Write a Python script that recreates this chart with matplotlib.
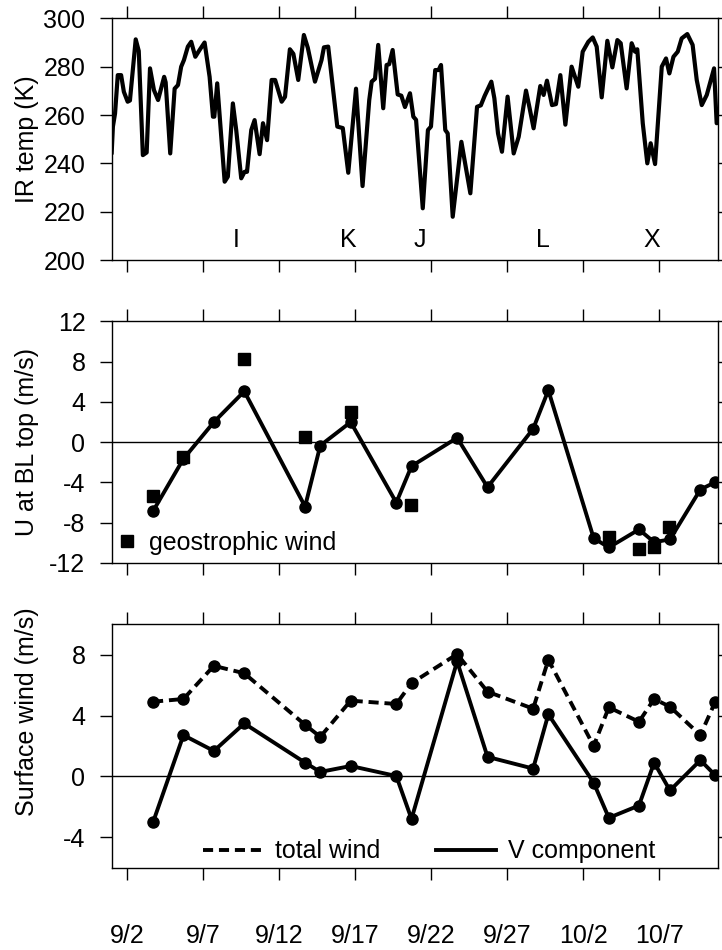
import numpy as np
import matplotlib
matplotlib.use("Agg")
import matplotlib.pyplot as plt

plt.rcParams['font.family'] = ['Liberation Sans', 'DejaVu Sans']
plt.rcParams['font.size'] = 18
plt.rcParams['axes.unicode_minus'] = False

# days since 9/2
tick_days = [0, 5, 10, 15, 20, 25, 30, 35]
tick_labels = ['9/2', '9/7', '9/12', '9/17', '9/22', '9/27', '10/2', '10/7']

# IR brightness temperature (traced)
ir_day = [-1.00, -0.92, -0.78, -0.60, -0.38, -0.20, 0.05, 0.20, 0.58, 0.78,
          1.05, 1.30, 1.52, 1.78, 2.05, 2.45, 2.55, 2.85, 3.14, 3.36,
          3.57, 3.75, 4.01, 4.23, 4.50, 4.78, 5.11, 5.44, 5.66, 5.75,
          5.94, 6.43, 6.64, 6.97, 7.19, 7.52, 7.74, 7.90, 8.18, 8.40,
          8.73, 8.95, 9.22, 9.52, 9.75, 10.18, 10.40, 10.72, 10.95, 11.27,
          11.64, 11.90, 12.37, 12.80, 12.96, 13.24, 13.84, 14.20, 14.56, 15.07,
          15.50, 15.94, 16.10, 16.32, 16.53, 16.86, 17.08, 17.25, 17.48, 17.81,
          18.05, 18.29, 18.62, 18.84, 19.02, 19.46, 19.80, 20.00, 20.28, 20.50,
          20.66, 20.94, 21.10, 21.43, 22.00, 22.59, 23.03, 23.28, 23.53, 23.97,
          24.17, 24.41, 24.67, 25.04, 25.44, 25.77, 26.25, 26.47, 26.75, 27.19,
          27.41, 27.63, 27.96, 28.22, 28.51, 28.84, 29.25, 29.69, 29.98, 30.35,
          30.64, 30.90, 31.23, 31.60, 31.93, 32.26, 32.48, 32.87, 33.20, 33.42,
          33.57, 33.93, 34.23, 34.45, 34.74, 35.18, 35.46, 35.68, 35.95, 36.23,
          36.49, 36.86, 37.21, 37.48, 37.81, 38.14, 38.62, 38.79, 39.00]
ir_temp = [244.5, 255.2, 260.6, 276.5, 276.5, 269.6, 265.5, 266.0, 291.3, 286.5,
           243.4, 244.5, 279.3, 270.3, 266.2, 275.8, 273.5, 244.1, 270.9, 272.4,
           280.0, 282.7, 288.3, 290.3, 284.1, 286.9, 290.0, 275.8, 259.3, 259.3,
           273.1, 232.4, 234.5, 264.8, 253.8, 233.8, 236.5, 236.5, 253.8, 257.9,
           243.8, 256.6, 249.6, 274.5, 274.5, 265.5, 267.5, 287.2, 285.3, 274.5,
           293.1, 287.8, 273.8, 282.7, 288.0, 288.3, 255.2, 254.6, 236.1, 270.9,
           230.6, 266.2, 273.8, 275.0, 289.0, 262.8, 280.7, 281.0, 286.9, 268.5,
           268.0, 263.3, 269.0, 259.3, 258.0, 221.4, 253.8, 255.2, 278.6, 278.6,
           280.7, 253.8, 252.4, 217.9, 248.9, 227.6, 263.4, 264.0, 267.9, 273.8,
           266.9, 252.4, 244.8, 267.6, 244.1, 251.0, 270.1, 263.4, 254.5, 272.0,
           268.3, 274.2, 264.1, 264.5, 276.5, 256.0, 280.0, 271.7, 286.2, 290.3,
           292.1, 288.3, 267.3, 290.7, 279.7, 291.0, 289.7, 271.0, 289.7, 286.2,
           287.2, 256.6, 240.0, 248.3, 239.7, 280.0, 283.4, 277.2, 284.1, 286.2,
           291.7, 293.5, 289.0, 274.5, 264.1, 268.3, 279.3, 256.6, 257.0]

case_names = ['I', 'K', 'J', 'L', 'X']
case_days = [7.17, 14.54, 19.28, 27.36, 34.54]

# sounding times
snd_day = [1.72, 3.72, 5.72, 7.72, 11.72, 12.72, 14.72, 17.72, 18.72, 21.72,
           23.72, 26.72, 27.72, 30.70, 31.70, 33.68, 34.68, 35.72, 37.72, 38.70]
u_bl = [-6.85, -1.65, 2.0, 5.06, -6.39, -0.33, 2.0, -6.0, -2.38, 0.44,
        -4.47, 1.33, 5.16, -9.53, -10.46, -8.67, -9.93, -9.66, -4.70, -3.97]

geo_day = [1.72, 3.72, 7.72, 11.72, 14.75, 18.70, 31.70, 33.70, 34.68, 35.68]
u_geo = [-5.36, -1.45, 8.28, 0.54, 2.98, -6.19, -9.4, -10.66, -10.46, -8.4]

total_wind = [4.91, 5.09, 7.27, 6.78, 3.39, 2.60, 4.98, 4.76, 6.13, 8.04,
              5.57, 4.45, 7.67, 2.0, 4.54, 3.59, 5.09, 4.58, 2.71, 4.91]
v_comp = [-3.02, 2.71, 1.67, 3.48, 0.90, 0.29, 0.68, 0.02, -2.8, 7.56,
          1.28, 0.51, 4.08, -0.42, -2.73, -1.92, 0.90, -0.93, 1.06, 0.07]

fig = plt.figure(figsize=(7.22, 9.5), dpi=100)
ax1 = fig.add_axes([0.1547, 0.7263, 0.8402, 0.2544])
ax2 = fig.add_axes([0.1547, 0.4074, 0.8402, 0.2542])
ax3 = fig.add_axes([0.1547, 0.0868, 0.8402, 0.2560])

for ax in (ax1, ax2, ax3):
    ax.set_xlim(-1.0, 38.9)
    ax.set_xticks(tick_days)
    ax.tick_params(direction='out', length=8.4, width=1, top=True, right=True,
                   labelbottom=False, pad=10.5)
    for s in ax.spines.values():
        s.set_linewidth(1)

# top: IR temp
ax1.plot(ir_day, ir_temp, color='k', lw=3, solid_joinstyle='round')
ax1.set_ylim(200, 300)
ax1.set_yticks(range(200, 301, 20))
for name, d in zip(case_names, case_days):
    ax1.text(d, 208.3, name, ha='center', va='center', fontsize=18)
ax1.set_ylabel('IR temp (K)')

# middle: U at BL top
ax2.axhline(0, color='k', lw=1)
ax2.plot(snd_day, u_bl, color='k', lw=2.8, marker='o', ms=8)
ax2.plot(geo_day, u_geo, 's', color='k', ms=9, label='geostrophic wind', ls='none')
ax2.set_ylim(-12, 12)
ax2.set_yticks(range(-12, 13, 4))
ax2.set_ylabel('U at BL top (m/s)')
ax2.legend(loc='center left', bbox_to_anchor=(0.004, 0.083), frameon=False,
           borderpad=0, borderaxespad=0, handlelength=1.0, handletextpad=0.4,
           fontsize=18)

# bottom: surface wind
ax3.axhline(0, color='k', lw=1)
ax3.plot(snd_day, total_wind, color='k', lw=2.8, dashes=(2.6, 1.5), label='total wind')
ax3.plot(snd_day, total_wind, 'o', color='k', ms=8)
ax3.plot(snd_day, v_comp, color='k', lw=2.8, label='V component')
ax3.plot(snd_day, v_comp, 'o', color='k', ms=8)
ax3.set_ylim(-6, 10)
ax3.set_yticks([-4, 0, 4, 8])
ax3.set_ylabel('Surface wind (m/s)')
ax3.legend(loc='center left', bbox_to_anchor=(0.1505, 0.066), frameon=False,
           borderpad=0, borderaxespad=0, ncol=2, handlelength=2.4,
           handletextpad=0.5, columnspacing=2.2, fontsize=18)
ax3.set_xticks(tick_days)
ax3.set_xticklabels(tick_labels)
ax3.tick_params(axis='x', labelbottom=True, pad=32)

for ax in (ax1, ax2):
    ax.yaxis.set_label_coords(-0.12, 0.5)
ax3.yaxis.set_label_coords(-0.12, 0.64)

fig.savefig('out.png', dpi=100)
